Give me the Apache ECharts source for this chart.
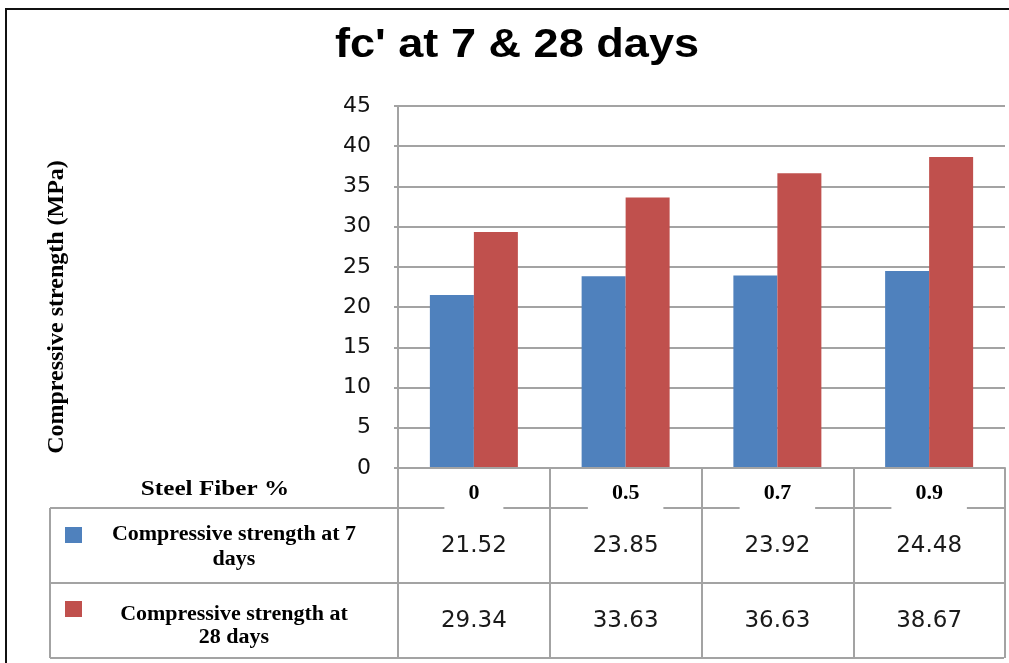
<!DOCTYPE html>
<html>
<head>
<meta charset="utf-8">
<script src="https://cdn.jsdelivr.net/npm/echarts@6/dist/echarts.min.js"></script>
<style>
  html, body { margin: 0; padding: 0; background: #fff; }
  #chart { width: 1009px; height: 663px; }
</style>
</head>
<body>
<div id="chart"></div>
<script>
// Steel fiber content (%) and compressive strength results (MPa)
const categories = ['0', '0.5', '0.7', '0.9'];
const strength7 = [21.52, 23.85, 23.92, 24.48];
const strength28 = [29.34, 33.63, 36.63, 38.67];
const seriesNames = ['Compressive strength at 7 days', 'Compressive strength at 28 days'];
const rowLabels = ['Compressive strength at 7\ndays', 'Compressive strength at\n28 days'];
const yTicks = { min: 0, max: 45, step: 5 };
const titleText = "fc' at 7 & 28 days";
const yName = 'Compressive strength (MPa)';
const xName = 'Steel Fiber %';

const BLUE = '#4f81bd';
const RED = '#c0504d';
const GRID = '#a3a3a3';
const SERIF = '"Liberation Serif", "Times New Roman", serif';
const SANS = '"DejaVu Sans", Verdana, sans-serif';

const chart = echarts.init(document.getElementById('chart'));

// grid box: plot spans from the y-axis line to the right edge
const G = { left: 398, top: 106, right: 4, bottom: 195 };
const plotBottom = 663 - G.bottom;     // 468
const tableLeft = 50;
const tableRight = 1004;
const rowLines = [508, 583, 658];

function line(x1, y1, x2, y2, color, w) {
  return { type: 'line', z: 1, shape: { x1, y1, x2, y2 }, style: { stroke: color, lineWidth: w } };
}

// table rows underneath the plot: one category axis per data row
function valueAxis(values, offset) {
  return {
    type: 'category', gridIndex: 0, position: 'bottom', offset: offset,
    data: values.map(v => v.toFixed(2)),
    axisLine: { show: false }, axisTick: { show: false }, splitLine: { show: false },
    axisLabel: { margin: 0, verticalAlign: 'middle', fontFamily: SANS, fontSize: 23, color: '#1a1a1a' },
    z: 3
  };
}

const option = {
  animation: false,
  backgroundColor: '#fff',
  grid: G,
  legend: {
    orient: 'vertical', left: 60, top: 522,
    itemWidth: 17, itemHeight: 16, itemGap: 58,
    icon: 'rect', selectedMode: false,
    formatter: () => '',
    textStyle: { fontSize: 10, lineHeight: 16 },
    data: seriesNames
  },
  xAxis: [
    {
      type: 'category', data: categories, z: 3,
      axisLine: { show: true, lineStyle: { color: GRID, width: 2 } },
      axisTick: { show: true, interval: 0, length: rowLines[2] - plotBottom,
                  lineStyle: { color: GRID, width: 2 } },
      axisLabel: {
        margin: 12, fontFamily: SERIF, fontWeight: 'bold', fontSize: 22, color: '#000',
        backgroundColor: '#fff', padding: [2, 24, 9, 24]
      }
    },
    valueAxis(strength7, 78),
    valueAxis(strength28, 153)
  ],
  yAxis: {
    type: 'value', min: yTicks.min, max: yTicks.max, interval: yTicks.step,
    axisLine: { show: true, lineStyle: { color: GRID, width: 2 } },
    axisTick: { show: true, length: 4, lineStyle: { color: GRID, width: 2 } },
    splitLine: { lineStyle: { color: GRID, width: 2 } },
    axisLabel: { margin: 27, fontFamily: SANS, fontSize: 22, color: '#111' }
  },
  series: [
    { name: seriesNames[0], type: 'bar', data: strength7, barWidth: 44, barGap: '0%',
      itemStyle: { color: BLUE } },
    { name: seriesNames[1], type: 'bar', data: strength28, barWidth: 44, barGap: '0%',
      itemStyle: { color: RED } }
  ],
  graphic: [
    // outer frame
    line(5, 9, 1009, 9, '#111', 2),
    line(6, 9, 6, 663, '#111', 2),
    // data table rules
    line(tableLeft, rowLines[0], tableRight, rowLines[0], GRID, 2),
    line(tableLeft, rowLines[1], tableRight, rowLines[1], GRID, 2),
    line(tableLeft, rowLines[2], tableRight, rowLines[2], GRID, 2),
    line(tableLeft, rowLines[0], tableLeft, rowLines[2], GRID, 2),
    // title
    { type: 'text', z: 5, x: 517, y: 46, scaleX: 1.1,
      style: { text: titleText, fontFamily: '"Liberation Sans", Arial, sans-serif', fontWeight: 'bold',
               fontSize: 41, fill: '#000', align: 'center', verticalAlign: 'middle' } },
    // value axis title, reading upwards
    { type: 'text', z: 5, x: 57, y: 307, rotation: Math.PI / 2,
      style: { text: yName, fontFamily: SERIF, fontWeight: 'bold', fontSize: 24, fill: '#000',
               align: 'center', verticalAlign: 'middle' } },
    // header of the category row
    { type: 'text', z: 5, x: 215, y: 490, scaleX: 1.26,
      style: { text: xName, fontFamily: SERIF, fontWeight: 'bold', fontSize: 20, fill: '#000',
               align: 'center', verticalAlign: 'middle' } },
    // row labels
    { type: 'text', z: 5, x: 234, y: 547, scaleX: 1.1,
      style: { text: rowLabels[0], fontFamily: SERIF, fontWeight: 'bold', fontSize: 20, lineHeight: 25,
               fill: '#000', align: 'center', verticalAlign: 'middle' } },
    { type: 'text', z: 5, x: 234, y: 626, scaleX: 1.1,
      style: { text: rowLabels[1], fontFamily: SERIF, fontWeight: 'bold', fontSize: 20, lineHeight: 23,
               fill: '#000', align: 'center', verticalAlign: 'middle' } }
  ]
};

chart.setOption(option);
</script>
</body>
</html>
